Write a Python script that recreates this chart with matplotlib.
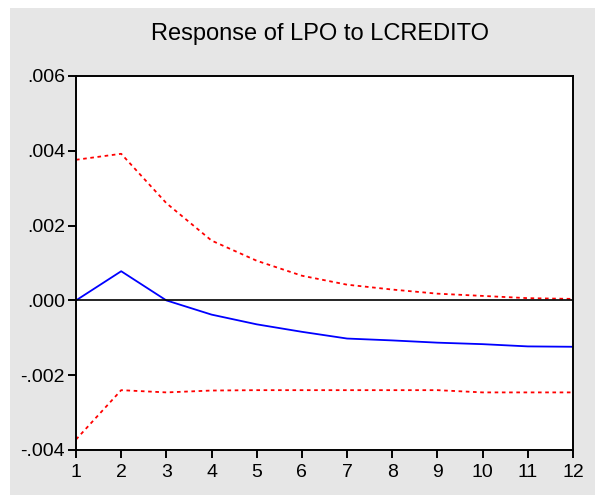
import matplotlib
matplotlib.use("Agg")
import matplotlib.pyplot as plt
from matplotlib.patches import Rectangle

# ==========================================
# Data
# ==========================================

periods = [1, 2, 3, 4, 5, 6, 7, 8, 9, 10, 11, 12]

response = [0.0, 0.00078, 0.0, -0.00038, -0.00064, -0.00084,
            -0.00102, -0.00107, -0.00113, -0.00117, -0.00123, -0.00124]

upper_band = [0.00376, 0.00392, 0.0026, 0.0016, 0.00106, 0.00066,
              0.00042, 0.00029, 0.00018, 0.00012, 0.00006, 0.00004]

lower_band = [-0.00372, -0.0024, -0.00246, -0.00241, -0.0024, -0.0024,
              -0.0024, -0.0024, -0.0024, -0.00246, -0.00246, -0.00246]

y_ticks = [-0.004, -0.002, 0.0, 0.002, 0.004, 0.006]
y_tick_labels = ["-.004", "-.002", ".000", ".002", ".004", ".006"]

# ==========================================
# Figure
# ==========================================

plt.rcParams["font.family"] = ["Liberation Sans", "DejaVu Sans"]

fig = plt.figure(figsize=(5.95, 4.95), dpi=100)
fig.patch.set_facecolor("white")

# gray panel behind the chart
panel = Rectangle((10 / 595, 0), 1, 1 - 8 / 495,
                  transform=fig.transFigure,
                  facecolor="#e6e6e6", edgecolor="none")
panel.set_zorder(-10)
fig.add_artist(panel)

ax = fig.add_axes([76 / 595, 45 / 495, 497 / 595, 374 / 495])
ax.set_zorder(5)
ax.set_facecolor("white")

ax.plot(periods, upper_band, color="red", linestyle=(0, (2, 2)), linewidth=1.3)
ax.plot(periods, lower_band, color="red", linestyle=(0, (2, 2)), linewidth=1.3)
ax.plot(periods, response, color="blue", linewidth=1.3)
ax.axhline(0, color="black", linewidth=1.2)

ax.set_xlim(1, 12)
ax.set_ylim(-0.004, 0.006)
ax.set_xticks(periods)
ax.set_yticks(y_ticks)
ax.set_yticklabels(y_tick_labels)

ax.tick_params(direction="out", length=6, width=1.4, labelsize=14, colors="black")
ax.tick_params(axis="x", pad=4)
ax.tick_params(axis="y", pad=2)
for spine in ax.spines.values():
    spine.set_linewidth(1.4)

fig.text(0.538, 0.932, "Response of LPO to LCREDITO",
         ha="center", va="center", fontsize=17)

fig.savefig("out.png", dpi=100, facecolor=fig.get_facecolor())
